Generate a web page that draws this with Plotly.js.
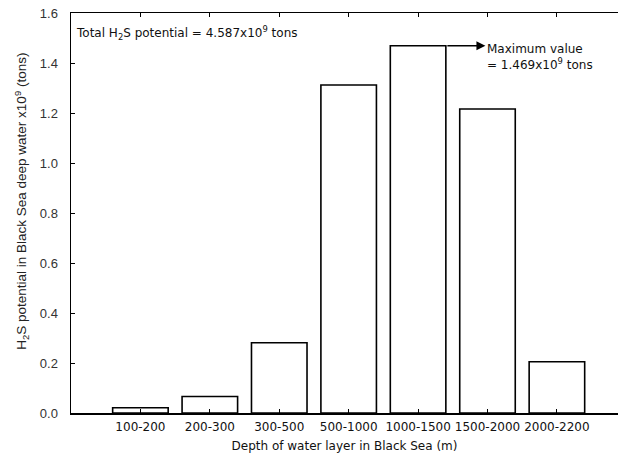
<!DOCTYPE html>
<html>
<head>
<meta charset="utf-8">
<script src="https://cdn.plot.ly/plotly-3.0.1.min.js"></script>
<style>html,body{margin:0;padding:0;background:#fff;}</style>
</head>
<body>
<div id="chart" style="width:618px;height:468px;"></div>
<script>
const categories = ["100-200","200-300","300-500","500-1000","1000-1500","1500-2000","2000-2200"];
const h2sPotential = [0.021, 0.066, 0.281, 1.312, 1.469, 1.216, 0.205];
const yTicks = [0.0, 0.2, 0.4, 0.6, 0.8, 1.0, 1.2, 1.4, 1.6];
const yTickLabels = ["0.0","0.2","0.4","0.6","0.8","1.0","1.2","1.4","1.6"];
const xTitle = "Depth of water layer in Black Sea (m)";
const yTitle = "H<sub>2</sub>S potential in Black Sea deep water x10<sup>9</sup> (tons)";
const totalText = "Total H<sub>2</sub>S potential = 4.587x10<sup>9</sup> tons";
const maxText = "Maximum value<br>= 1.469x10<sup>9</sup> tons";

const idx = categories.map((c,i)=>i);
const maxIdx = h2sPotential.indexOf(Math.max(...h2sPotential));
const barW = 0.8;

const trace = {
  type: 'bar',
  x: idx,
  y: h2sPotential,
  width: barW,
  marker: {color: '#ffffff', line: {color: '#000000', width: 1.6}},
  hoverinfo: 'skip'
};

const layout = {
  width: 618, height: 468,
  margin: {l: 71, r: 0, t: 13, b: 55},
  paper_bgcolor: '#fff', plot_bgcolor: '#fff',
  showlegend: false,
  font: {family: 'Liberation Sans, Arial, sans-serif', color: '#222'},
  xaxis: {
    range: [-1, 6.88],
    tickmode: 'array', tickvals: idx, ticktext: categories,
    ticks: 'inside', ticklen: 4, tickwidth: 1, tickcolor: '#000',
    showline: true, linecolor: '#000', linewidth: 1.5, mirror: 'ticks',
    showgrid: false, zeroline: false,
    ticklabelstandoff: 2,
    tickfont: {family: 'DejaVu Sans, sans-serif', size: 12, color: '#111'},
    title: {text: xTitle, font: {family: 'DejaVu Sans, sans-serif', size: 12, color: '#111'}, standoff: 8}
  },
  yaxis: {
    range: [0, 1.6],
    tickmode: 'array', tickvals: yTicks, ticktext: yTickLabels,
    ticks: 'inside', ticklen: 4, tickwidth: 1, tickcolor: '#000',
    showline: true, linecolor: '#000', linewidth: 1.5, mirror: false,
    showgrid: false, zeroline: false,
    ticklabelstandoff: 9,
    tickfont: {family: 'Liberation Sans, Arial, sans-serif', size: 13, color: '#333'}
  },
  annotations: [
    {xref: 'paper', yref: 'paper', x: -0.09, y: 0.53, xanchor: 'center', yanchor: 'middle',
     text: yTitle, textangle: -90, showarrow: false,
     font: {family: 'Liberation Sans, Arial, sans-serif', size: 13.5, color: '#222'}},
    {xref: 'paper', yref: 'paper', x: 0.005, y: 0.95, xanchor: 'left', yanchor: 'middle',
     text: totalText, showarrow: false, align: 'left',
     font: {family: 'DejaVu Sans, sans-serif', size: 12, color: '#111'}},
    {xref: 'x', yref: 'y', axref: 'x', ayref: 'y',
     x: 4.97, y: h2sPotential[maxIdx], ax: maxIdx + barW/2, ay: h2sPotential[maxIdx],
     text: '', showarrow: true, arrowhead: 2, arrowsize: 1.2, arrowwidth: 1.5, arrowcolor: '#000'},
    {xref: 'x', yref: 'y', x: 4.97, y: h2sPotential[maxIdx] + 0.025, xanchor: 'left', yanchor: 'top',
     text: maxText, showarrow: false, align: 'left',
     font: {family: 'DejaVu Sans, sans-serif', size: 12, color: '#111'}}
  ]
};

Plotly.newPlot('chart', [trace], layout, {displayModeBar: false, staticPlot: true});
</script>
</body>
</html>
